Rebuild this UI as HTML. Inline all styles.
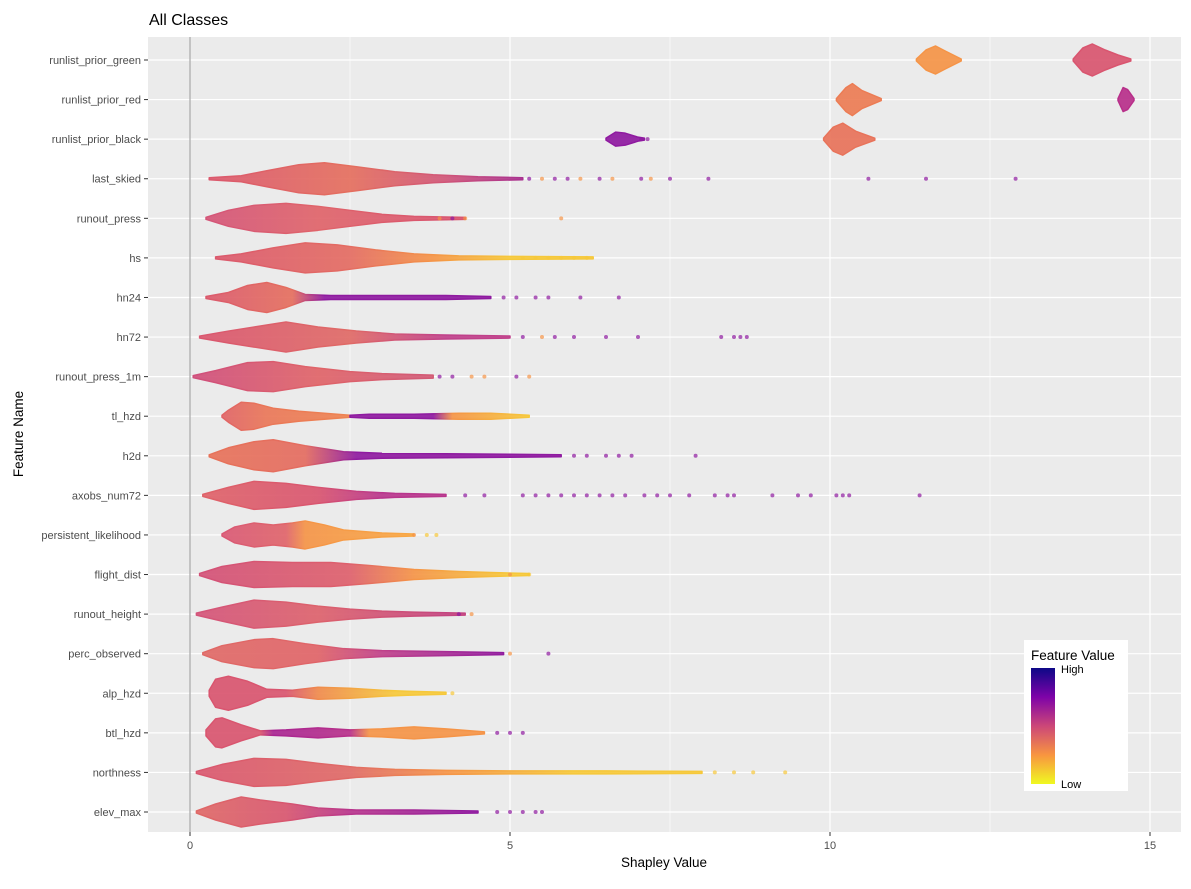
<!DOCTYPE html>
<html><head><meta charset="utf-8"><style>
body{margin:0;background:#fff;font-family:"Liberation Sans",sans-serif;}
svg text{font-family:"Liberation Sans",sans-serif;}
</style></head><body>
<svg id="chart" width="1191" height="884" xmlns="http://www.w3.org/2000/svg">
<defs>
<linearGradient id="legGrad" x1="0" y1="0" x2="0" y2="1">
<stop offset="0" stop-color="#0d0887"/><stop offset="0.25" stop-color="#7e03a8"/><stop offset="0.5" stop-color="#cc4778"/><stop offset="0.75" stop-color="#f89540"/><stop offset="1" stop-color="#f0f921"/>
</linearGradient>
</defs>
<text x="149" y="25" font-size="16" fill="#000">All Classes</text>
<rect x="148" y="37" width="1033" height="795" fill="#ebebeb"/>
<g id="grid"></g>
<g id="marks"></g>
<g id="axes"></g>
<text x="664" y="867" font-size="13.5" text-anchor="middle">Shapley Value</text>
<text transform="translate(23,434) rotate(-90)" font-size="13.5" text-anchor="middle">Feature Name</text>
<g>
<rect x="1024" y="640" width="104" height="151" fill="#fff"/>
<text x="1031" y="660" font-size="13.5">Feature Value</text>
<rect x="1031" y="668" width="24" height="116" fill="url(#legGrad)"/>
<text x="1061" y="673" font-size="11">High</text>
<text x="1061" y="788" font-size="11">Low</text>
</g>
</svg>
<script>
const features=["runlist_prior_green","runlist_prior_red","runlist_prior_black","last_skied","runout_press","hs","hn24","hn72","runout_press_1m","tl_hzd","h2d","axobs_num72","persistent_likelihood","flight_dist","runout_height","perc_observed","alp_hzd","btl_hzd","northness","elev_max"];
const xTicks=[0,5,10,15];
const P="#8f1aa0",O="#f59447",Y="#f6c83a",R="#d9556f",M="#b82f8a";
const profiles=[
 [[[11.35,1],[11.5,10],[11.65,14],[11.8,9],[12.05,1]],[[13.8,1],[13.95,12],[14.1,16],[14.3,10],[14.5,5],[14.7,1]]],
 [[[10.1,1],[10.25,12],[10.35,16],[10.5,9],[10.8,1]],[[14.5,1],[14.58,12],[14.65,10],[14.75,1]]],
 [[[6.5,1],[6.65,7],[6.8,6],[7.0,2],[7.1,1]],[[9.9,1],[10.05,12],[10.2,16],[10.4,8],[10.7,1]]],
 [[[0.3,1],[0.8,3],[1.2,8],[1.7,14],[2.1,16],[2.6,12],[3.2,7],[3.8,4],[4.5,2],[5.2,1]]],
 [[[0.25,1],[0.6,8],[1.0,13],[1.5,15],[2.0,12],[2.5,8],[3.0,4],[3.5,2],[4.3,1]]],
 [[[0.4,1],[0.8,4],[1.3,10],[1.8,15],[2.3,13],[2.9,8],[3.5,4],[4.2,2],[5,1.5],[6.3,1]]],
 [[[0.25,1],[0.6,5],[0.9,12],[1.2,15],[1.5,10],[1.8,3],[2.2,2],[3,2],[4,2],[4.7,1]]],
 [[[0.15,1],[0.6,6],[1.2,12],[1.5,15],[2,10],[2.6,6],[3.2,3],[4,2],[5,1]]],
 [[[0.05,1],[0.4,6],[0.9,14],[1.3,15],[1.8,10],[2.5,5],[3,3],[3.8,1.5]]],
 [[[0.5,1],[0.6,6],[0.8,14],[1,13],[1.3,8],[1.7,5],[2.1,3],[2.5,1]],[[2.5,1],[2.8,2],[3.5,2],[4.2,3],[4.7,3],[5.3,1]]],
 [[[0.3,1],[0.6,8],[1,14],[1.3,16],[1.8,10],[2.4,4],[3,2.5],[4,2],[5,1.5],[5.8,1]]],
 [[[0.2,1],[0.6,8],[1,14],[1.5,12],[2,8],[2.6,4],[3.2,2],[4,1]]],
 [[[0.5,1],[0.7,8],[1,12],[1.3,10],[1.6,12],[1.8,14],[2.1,10],[2.4,5],[3,2],[3.5,1]]],
 [[[0.15,1],[0.5,8],[1,13],[1.6,12],[2.2,12],[2.8,9],[3.5,5],[4.2,3],[4.7,2],[5.3,1]]],
 [[[0.1,1],[0.5,7],[1,14],[1.5,12],[2,8],[2.5,5],[3,3],[3.5,2],[4.3,1]]],
 [[[0.2,1],[0.5,8],[1,14],[1.3,15],[1.8,10],[2.4,5],[3,3],[4,2],[4.9,1]]],
 [[[0.3,3],[0.4,14],[0.6,17],[0.9,12],[1.2,4],[1.6,3],[2,6],[2.5,5],[3,3],[3.4,2],[4,1]]],
 [[[0.25,3],[0.4,14],[0.5,15],[0.8,8],[1.1,2],[1.5,3],[2,5],[2.5,3],[3,4],[3.5,6],[4,4],[4.6,1]]],
 [[[0.1,1],[0.5,8],[1,14],[1.5,13],[2,9],[2.6,5],[3.2,3],[4,2],[5,1.5],[6.5,1.5],[8,1]]],
 [[[0.1,1],[0.4,8],[0.8,15],[1.1,12],[1.6,8],[2,4],[2.6,2],[3.5,2],[4.5,1]]]
];
const colorStops=[
 [[[0,O],[20,O]],[[0,R],[20,R]]],
 [[[0,"#ec7c54"],[20,"#ec7c54"]],[[0,M],[20,M]]],
 [[[0,P],[20,P]],[[0,"#e8735a"],[20,"#e8735a"]]],
 [[[0,R],[2.5,"#e56f5e"],[4,"#d05578"],[6,P]]],
 [[[0,"#d2527a"],[2,"#e0646a"],[4,R]]],
 [[[0,R],[2.5,"#e46c62"],[3.8,O],[5,Y]]],
 [[[0,R],[1.6,"#e56f5e"],[2.1,P],[5,P]]],
 [[[0,R],[2.5,"#e06a66"],[4,"#c0408a"]]],
 [[[0,"#cf4e7c"],[2,"#e06468"],[3.5,"#d35a74"]]],
 [[[0,R],[1.2,"#ea7758"],[2.5,"#ee8350"]],[[0,P],[3.8,P],[4.1,O],[5.3,Y]]],
 [[[0,"#e87458"],[1.8,"#e46c60"],[2.6,P],[6,P]]],
 [[[0,"#e06468"],[2,R],[3,"#b8358c"]]],
 [[[0,"#d6527a"],[1.5,"#e0646a"],[1.8,O],[3.5,"#f8a844"]]],
 [[[0,"#d25078"],[2.5,"#de606c"],[3.5,O],[5,Y]]],
 [[[0,"#d3537a"],[2,"#dd626c"],[4,"#c44580"]]],
 [[[0,"#e06a66"],[2,"#e06468"],[3,"#c0408a"],[5,P]]],
 [[[0,R],[1.5,R],[2,"#f08a4c"],[3.2,Y],[4,Y]]],
 [[[0,R],[1.1,R],[1.3,"#a82592"],[2.5,"#b8308a"],[2.8,O],[4.6,O]]],
 [[[0,"#d9566f"],[2.5,"#e06a66"],[4,O],[6,Y],[8,Y]]],
 [[[0,"#e06a66"],[1.5,"#d8566f"],[2.5,"#b8358c"],[4.5,P]]]
];
const dots=[
 [],[],
 [[7.05,P],[7.15,P]],
 [[5.3,P],[5.5,O],[5.7,P],[5.9,P],[6.1,O],[6.4,P],[6.6,O],[7.05,P],[7.2,O],[7.5,P],[8.1,P],[10.6,P],[11.5,P],[12.9,P]],
 [[3.9,O],[4.1,P],[4.3,O],[5.8,O]],
 [[5.2,Y],[5.4,Y],[5.6,Y],[5.8,Y],[6.0,Y],[6.2,Y]],
 [[4.9,P],[5.1,P],[5.4,P],[5.6,P],[6.1,P],[6.7,P]],
 [[5.2,P],[5.5,O],[5.7,P],[6.0,P],[6.5,P],[7.0,P],[8.3,P],[8.5,P],[8.6,P],[8.7,P]],
 [[3.9,P],[4.1,P],[4.4,O],[4.6,O],[5.1,P],[5.3,O]],
 [],
 [[6.0,P],[6.2,P],[6.5,P],[6.7,P],[6.9,P],[7.9,P]],
 [[4.3,P],[4.6,P],[5.2,P],[5.4,P],[5.6,P],[5.8,P],[6.0,P],[6.2,P],[6.4,P],[6.6,P],[6.8,P],[7.1,P],[7.3,P],[7.5,P],[7.8,P],[8.2,P],[8.4,P],[8.5,P],[9.1,P],[9.5,P],[9.7,P],[10.1,P],[10.2,P],[10.3,P],[11.4,P]],
 [[3.5,O],[3.7,Y],[3.85,Y]],
 [[5.0,O],[5.3,Y]],
 [[4.2,P],[4.4,O]],
 [[5.0,O],[5.6,P]],
 [[4.1,Y]],
 [[4.8,P],[5.0,P],[5.2,P]],
 [[8.2,Y],[8.5,Y],[8.8,Y],[9.3,Y]],
 [[4.8,P],[5.0,P],[5.2,P],[5.4,P],[5.5,P]]
];
const NS="http://www.w3.org/2000/svg";
const X0=148,X1=1181,Y0=37,Y1=832;
const xs=v=>190+v*64;
const ys=i=>60+i*(812-60)/19;
function mk(tag,attrs,parent){const e=document.createElementNS(NS,tag);for(const k in attrs)e.setAttribute(k,attrs[k]);parent.appendChild(e);return e;}
const grid=document.getElementById('grid'),marks=document.getElementById('marks'),axes=document.getElementById('axes'),defs=document.querySelector('defs');
for(let i=0;i<xTicks.length-1;i++){
 const l=mk('line',{x1:xs((xTicks[i]+xTicks[i+1])/2),x2:xs((xTicks[i]+xTicks[i+1])/2),y1:Y0,y2:Y1,stroke:'#fff','stroke-width':0.6},grid);
 
 
}
xTicks.forEach(t=>{
 const l=mk('line',{x1:xs(t),x2:xs(t),y1:Y0,y2:Y1,stroke:'#fff','stroke-width':1.2},grid);
 
 
 const tk=mk('line',{x1:xs(t),x2:xs(t),y1:Y1,y2:Y1+4,stroke:'#333','stroke-width':1},axes);
 
 
 const tx=mk('text',{x:xs(t),y:Y1+17,'font-size':11,'text-anchor':'middle',fill:'#4d4d4d'},axes);
 tx.textContent=t;
 
 
});
features.forEach((f,i)=>{
 const l=mk('line',{x1:X0,x2:X1,y1:ys(i),y2:ys(i),stroke:'#fff','stroke-width':1.2},grid);
 
 
 const tk=mk('line',{x1:X0-4,x2:X0,y1:ys(i),y2:ys(i),stroke:'#333'},axes);
 
 
 const tx=mk('text',{x:X0-7,y:ys(i)+4,'font-size':11,'text-anchor':'end',fill:'#4d4d4d'},axes);
 tx.textContent=f;
 
 
});
const zl=mk('line',{x1:xs(0),x2:xs(0),y1:Y0,y2:Y1,stroke:'#a6a6a6','stroke-width':1.2},grid);


features.forEach((f,i)=>{
 const g=mk('g',{},marks);
 
 
 profiles[i].forEach((prof,c)=>{
  const gid='g'+i+'_'+c;
  const lg=mk('linearGradient',{id:gid,gradientUnits:'userSpaceOnUse',x1:xs(0),x2:xs(20),y1:0,y2:0},defs);
  const stops=(colorStops[i][c]||colorStops[i][0]);
  stops.forEach(s=>mk('stop',{offset:s[0]/20,'stop-color':s[1]},lg));
  let top=prof.map(p=>xs(p[0])+','+(ys(i)-p[1]));
  let bot=prof.slice().reverse().map(p=>xs(p[0])+','+(ys(i)+p[1]));
  const pg=mk('polygon',{points:top.concat(bot).join(' '),fill:'url(#'+gid+')','fill-opacity':0.92,stroke:'url(#'+gid+')','stroke-width':1.5,'stroke-linejoin':'round'},g);
  
  
 });
 dots[i].forEach(d=>{
  const c=mk('circle',{cx:xs(d[0]),cy:ys(i),r:2,fill:d[1],'fill-opacity':0.7},g);
  
  
 });
});
</script>
</body></html>
